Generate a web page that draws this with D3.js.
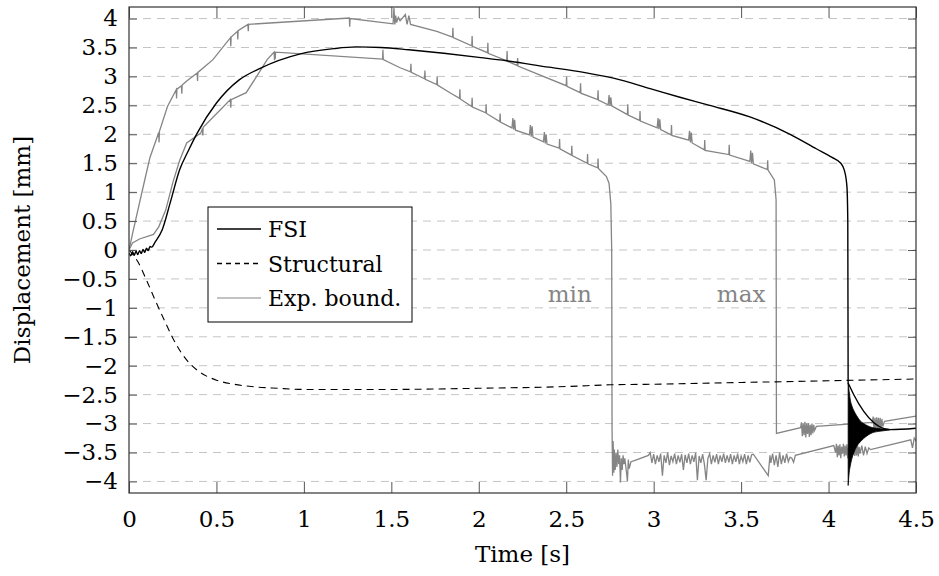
<!DOCTYPE html>
<html>
  <head>
    <meta charset="utf-8" />
    <title>Displacement over time</title>
    <script src="https://d3js.org/d3.v7.min.js"></script>
    <style>
      body { margin: 0; background: #fff; }
      text { font-family: "DejaVu Serif", "Liberation Serif", serif; }
    </style>
  </head>
  <body>
    <svg width="939" height="576"></svg>
    <script>
      // values, [time s, displacement mm]
      var fsi = [
        [0, -0.05], [0.01, -0.1], [0.02, -0.03], [0.03, -0.09], [0.04, -0.02], [0.05, -0.08],
        [0.06, -0.01], [0.07, -0.06], [0.08, 0.01], [0.09, -0.04], [0.1, 0.03], [0.11, -0.01],
        [0.12, 0.06], [0.13, 0.05], [0.15, 0.14], [0.19, 0.35], [0.235, 0.81], [0.29, 1.39],
        [0.34, 1.72], [0.39, 2.02], [0.5, 2.54], [0.63, 2.94], [0.75, 3.14], [0.98, 3.39],
        [1.17, 3.48], [1.3, 3.51], [1.44, 3.5], [1.6, 3.46], [1.8, 3.4], [2.0, 3.33], [2.16, 3.27],
        [2.4, 3.16], [2.6, 3.07], [2.77, 2.97], [2.98, 2.79], [3.15, 2.64], [3.32, 2.5], [3.55, 2.3],
        [3.78, 2.0], [3.93, 1.75], [4.02, 1.6], [4.07, 1.5], [4.09, 1.38], [4.105, 1.1],
        [4.11, 0.5], [4.112, -2.3], [4.35, -3.105], [4.5, -3.08]
      ];
      // ringing after the drop: [time, upper, lower]
      var fsiRinging = [
        [4.112, -2.3, -4.07], [4.118, -2.45, -3.85], [4.125, -2.6, -3.72], [4.134, -2.7, -3.6],
        [4.145, -2.78, -3.5], [4.16, -2.86, -3.4], [4.18, -2.95, -3.32], [4.2, -3.0, -3.26],
        [4.225, -3.04, -3.2], [4.25, -3.07, -3.16], [4.3, -3.09, -3.13], [4.35, -3.1, -3.11]
      ];
      var structural = [
        [0, 0], [0.05, -0.2], [0.1, -0.52], [0.15, -0.87], [0.2, -1.2], [0.25, -1.52], [0.3, -1.78],
        [0.35, -1.97], [0.4, -2.1], [0.5, -2.25], [0.6, -2.32], [0.7, -2.36], [0.85, -2.39],
        [1.0, -2.41], [1.5, -2.41], [2.0, -2.39], [2.5, -2.36], [2.75, -2.33], [3.0, -2.32],
        [3.5, -2.29], [4.0, -2.26], [4.5, -2.23]
      ];
      var expMax = [
        [0, 0], [0.02, 0.28], [0.05, 0.68], [0.09, 1.21], [0.12, 1.6], [0.17, 2.03], [0.172, 1.86],
        [0.174, 2.05], [0.22, 2.48], [0.27, 2.77], [0.272, 2.62], [0.274, 2.78], [0.3, 2.84],
        [0.302, 2.7], [0.304, 2.85], [0.33, 2.92], [0.39, 3.06], [0.392, 2.92], [0.394, 3.07],
        [0.48, 3.29], [0.58, 3.67], [0.582, 3.52], [0.584, 3.68], [0.62, 3.78], [0.622, 3.64],
        [0.624, 3.79], [0.68, 3.9], [0.682, 3.78], [0.684, 3.9], [1.26, 4.01], [1.262, 3.86],
        [1.264, 4.0], [1.51, 3.91], [1.515, 4.18], [1.52, 3.9], [1.525, 4.05], [1.53, 3.93],
        [1.54, 4.02], [1.55, 3.96], [1.58, 4.07], [1.59, 3.9], [1.6, 4.05], [1.61, 3.9],
        [1.76, 3.78], [1.85, 3.68], [1.852, 3.84], [1.854, 3.67], [1.96, 3.53], [1.962, 3.7],
        [1.964, 3.52], [2.05, 3.41], [2.052, 3.58], [2.054, 3.4], [2.16, 3.27], [2.162, 3.44],
        [2.164, 3.26], [2.22, 3.19], [2.222, 3.32], [2.224, 3.18], [2.5, 2.84], [2.502, 3.0],
        [2.504, 2.83], [2.58, 2.72], [2.582, 2.88], [2.584, 2.71], [2.68, 2.6], [2.682, 2.76],
        [2.684, 2.59], [2.74, 2.51], [2.745, 2.68], [2.75, 2.49], [2.755, 2.64], [2.76, 2.49],
        [2.85, 2.34], [2.852, 2.52], [2.854, 2.33], [2.92, 2.24], [2.922, 2.4], [2.924, 2.23],
        [3.02, 2.11], [3.025, 2.28], [3.03, 2.09], [3.035, 2.26], [3.04, 2.08], [3.1, 1.99],
        [3.102, 2.16], [3.104, 1.98], [3.2, 1.9], [3.205, 2.06], [3.21, 1.86], [3.215, 2.03],
        [3.22, 1.85], [3.29, 1.73], [3.292, 1.9], [3.294, 1.72], [3.43, 1.65], [3.432, 1.82],
        [3.434, 1.64], [3.55, 1.53], [3.555, 1.72], [3.56, 1.5], [3.565, 1.68], [3.57, 1.49],
        [3.65, 1.39], [3.652, 1.55], [3.654, 1.38], [3.69, 1.21], [3.7, 0.87], [3.702, -3.17],
        [3.84, -3.07], [3.845, -2.98], [3.85, -3.22], [3.855, -3.0], [3.86, -3.2], [3.865, -2.97],
        [3.87, -3.24], [3.875, -3.0], [3.88, -3.18], [3.885, -2.99], [3.89, -3.23], [3.895, -3.02],
        [3.9, -3.2], [3.905, -3.0], [3.91, -3.17], [3.915, -3.02], [3.92, -3.12], [3.93, -3.05],
        [4.25, -2.98], [4.255, -2.88], [4.26, -3.1], [4.265, -2.9], [4.27, -3.12], [4.275, -2.89],
        [4.28, -3.1], [4.285, -2.9], [4.29, -3.12], [4.295, -2.9], [4.3, -3.08], [4.305, -2.92],
        [4.31, -3.05], [4.32, -2.96], [4.5, -2.87]
      ];
      var expMin = [
        [0, 0], [0.02, 0.12], [0.06, 0.19], [0.14, 0.27], [0.17, 0.4], [0.21, 0.69], [0.25, 1.16],
        [0.29, 1.55], [0.33, 1.85], [0.41, 2.02], [0.42, 2.1], [0.422, 1.98], [0.424, 2.12],
        [0.58, 2.6], [0.582, 2.46], [0.584, 2.6], [0.67, 2.72], [0.73, 3.0], [0.79, 3.29],
        [0.83, 3.42], [0.832, 3.28], [0.834, 3.43], [0.836, 3.3], [0.838, 3.42], [1.45, 3.3],
        [1.452, 3.46], [1.454, 3.29], [1.55, 3.15], [1.61, 3.08], [1.612, 3.22], [1.614, 3.07],
        [1.69, 2.96], [1.692, 3.1], [1.694, 2.95], [1.76, 2.86], [1.762, 3.0], [1.764, 2.85],
        [1.84, 2.71], [1.89, 2.62], [1.892, 2.78], [1.894, 2.61], [1.96, 2.48], [1.962, 2.63],
        [1.964, 2.47], [2.04, 2.37], [2.042, 2.52], [2.044, 2.36], [2.12, 2.22], [2.122, 2.36],
        [2.124, 2.21], [2.19, 2.11], [2.195, 2.28], [2.2, 2.08], [2.205, 2.25], [2.21, 2.07],
        [2.29, 1.99], [2.295, 2.16], [2.3, 1.96], [2.305, 2.14], [2.31, 1.95], [2.37, 1.87],
        [2.375, 2.04], [2.38, 1.84], [2.385, 2.0], [2.39, 1.83], [2.46, 1.76], [2.462, 1.92],
        [2.464, 1.75], [2.53, 1.64], [2.532, 1.8], [2.534, 1.63], [2.62, 1.5], [2.622, 1.66],
        [2.624, 1.49], [2.68, 1.42], [2.682, 1.58], [2.684, 1.41], [2.73, 1.27], [2.745, 1.15],
        [2.755, 0.8], [2.76, 0.0], [2.762, -3.06], [2.765, -3.9], [2.768, -3.3], [2.772, -3.85],
        [2.775, -3.45], [2.78, -3.8], [2.785, -3.5], [2.79, -3.75], [2.795, -3.45], [2.8, -3.7],
        [2.805, -3.55], [2.81, -4.02], [2.815, -3.6], [2.82, -3.8], [2.825, -3.55], [2.83, -3.7],
        [2.835, -3.6], [2.845, -3.85], [2.85, -4.0], [2.855, -3.62], [2.86, -3.78], [2.87, -3.66],
        [2.89, -3.64], [2.97, -3.55], [2.98, -3.5], [2.99, -3.68], [3.0, -3.53], [3.01, -3.7],
        [3.02, -3.55], [3.03, -3.66], [3.04, -3.52], [3.05, -3.9], [3.06, -3.55], [3.07, -3.68],
        [3.08, -3.5], [3.09, -3.72], [3.1, -3.56], [3.11, -3.66], [3.12, -3.52], [3.13, -3.7],
        [3.14, -3.55], [3.15, -3.67], [3.16, -3.53], [3.17, -3.8], [3.18, -3.54], [3.19, -3.68],
        [3.2, -3.52], [3.21, -3.7], [3.22, -3.55], [3.23, -3.66], [3.24, -3.5], [3.25, -3.98],
        [3.26, -3.56], [3.27, -3.68], [3.28, -3.53], [3.29, -3.7], [3.3, -3.98], [3.31, -3.6],
        [3.32, -3.52], [3.33, -3.7], [3.34, -3.55], [3.35, -3.67], [3.36, -3.53], [3.37, -3.7],
        [3.38, -3.55], [3.39, -3.66], [3.4, -3.52], [3.41, -3.68], [3.42, -3.55], [3.43, -3.67],
        [3.44, -3.53], [3.45, -3.7], [3.46, -3.55], [3.47, -3.66], [3.48, -3.52], [3.49, -3.7],
        [3.5, -3.56], [3.51, -3.66], [3.52, -3.53], [3.53, -3.7], [3.54, -3.55], [3.55, -3.67],
        [3.56, -3.54], [3.57, -3.53], [3.655, -3.9], [3.665, -3.55], [3.67, -3.68], [3.68, -3.52],
        [3.69, -3.72], [3.7, -3.55], [3.71, -3.75], [3.72, -3.5], [3.73, -3.7], [3.74, -3.55],
        [3.75, -3.68], [3.76, -3.52], [3.77, -3.66], [3.78, -3.58], [3.79, -3.6], [3.8, -3.67],
        [3.81, -3.55], [4.03, -3.38], [4.04, -3.5], [4.045, -3.35], [4.05, -3.58], [4.055, -3.38],
        [4.06, -3.55], [4.065, -3.36], [4.07, -3.6], [4.075, -3.4], [4.08, -3.52], [4.085, -3.35],
        [4.09, -3.57], [4.095, -3.38], [4.1, -3.55], [4.105, -3.36], [4.11, -3.6], [4.115, -3.4],
        [4.12, -3.55], [4.125, -3.37], [4.13, -3.58], [4.135, -3.4], [4.14, -3.54], [4.145, -3.36],
        [4.15, -3.56], [4.155, -3.38], [4.16, -3.55], [4.165, -3.36], [4.17, -3.57], [4.175, -3.4],
        [4.18, -3.52], [4.19, -3.38], [4.2, -3.55], [4.21, -3.4], [4.22, -3.52], [4.23, -3.42],
        [4.24, -3.45], [4.47, -3.28], [4.48, -3.42], [4.49, -3.25], [4.5, -3.3]
      ];
      var xTicks = [0, 0.5, 1, 1.5, 2, 2.5, 3, 3.5, 4, 4.5];
      var yTicks = [-4, -3.5, -3, -2.5, -2, -1.5, -1, -0.5, 0, 0.5, 1, 1.5, 2, 2.5, 3, 3.5, 4];
      var legendLabels = ["FSI", "Structural", "Exp. bound."];

      var svg = d3.select("svg");
      var plotL = 129, plotR = 916, plotT = 7, plotB = 493;
      var grey = "#858585";

      var x = d3.scaleLinear().domain([0, 4.5]).range([plotL, plotR]);
      var y = d3.scaleLinear().domain([-4.2, 4.2]).range([plotB, plotT]);

      svg.append("defs").append("clipPath").attr("id", "plot")
        .append("rect")
        .attr("x", plotL).attr("y", plotT)
        .attr("width", plotR - plotL).attr("height", plotB - plotT);

      // horizontal dashed grid
      svg.append("g")
        .selectAll("line")
        .data(yTicks)
        .enter()
        .append("line")
        .attr("x1", plotL)
        .attr("x2", plotR)
        .attr("y1", function (d) { return y(d); })
        .attr("y2", function (d) { return y(d); })
        .attr("stroke", "#c4c4c4")
        .attr("stroke-dasharray", "8,6");

      var line = d3.line()
        .x(function (d) { return x(d[0]); })
        .y(function (d) { return y(d[1]); });
      var smooth = d3.line()
        .curve(d3.curveMonotoneX)
        .x(function (d) { return x(d[0]); })
        .y(function (d) { return y(d[1]); });

      var plot = svg.append("g").attr("clip-path", "url(#plot)");

      plot.append("path").attr("d", line(expMin))
        .attr("fill", "none").attr("stroke", grey).attr("stroke-width", 1.3);
      plot.append("path").attr("d", line(expMax))
        .attr("fill", "none").attr("stroke", grey).attr("stroke-width", 1.3);
      plot.append("path").attr("d", smooth(structural))
        .attr("fill", "none").attr("stroke", "#000").attr("stroke-width", 1.1)
        .attr("stroke-dasharray", "7,5");
      plot.append("path").attr("d", smooth(fsi))
        .attr("fill", "none").attr("stroke", "#000").attr("stroke-width", 1.4);
      plot.append("path")
        .attr("d", d3.area()
          .curve(d3.curveMonotoneX)
          .x(function (d) { return x(d[0]); })
          .y0(function (d) { return y(d[2]); })
          .y1(function (d) { return y(d[1]); })(fsiRinging))
        .attr("fill", "#000").attr("stroke", "#000").attr("stroke-width", 0.8);

      // axes, ticks pointing inwards
      var fontSize = 23;
      svg.append("g")
        .attr("transform", "translate(0," + plotB + ")")
        .call(d3.axisBottom(x).tickValues(xTicks).tickSize(-11).tickSizeOuter(0)
          .tickPadding(17.5).tickFormat(d3.format("")));
      svg.append("g")
        .attr("transform", "translate(0," + plotT + ")")
        .call(d3.axisTop(x).tickValues(xTicks).tickSize(-11).tickSizeOuter(0).tickFormat(""));
      svg.append("g")
        .attr("transform", "translate(" + plotL + ",0)")
        .call(d3.axisLeft(y).tickValues(yTicks).tickSize(-8).tickSizeOuter(0)
          .tickPadding(11).tickFormat(d3.format("")));
      svg.append("g")
        .attr("transform", "translate(" + plotR + ",0)")
        .call(d3.axisRight(y).tickValues(yTicks).tickSize(-8).tickSizeOuter(0).tickFormat(""));

      svg.selectAll(".domain").remove();
      svg.selectAll(".tick line").attr("stroke", "#555");
      svg.selectAll(".tick text")
        .attr("fill", "#000")
        .style("font-family", '"DejaVu Serif", serif')
        .style("font-size", fontSize + "px");

      svg.append("rect")
        .attr("x", plotL).attr("y", plotT)
        .attr("width", plotR - plotL).attr("height", plotB - plotT)
        .attr("fill", "none").attr("stroke", "#333").attr("stroke-width", 1.2);

      // axis titles
      svg.append("text")
        .attr("x", (plotL + plotR) / 2).attr("y", 562)
        .attr("text-anchor", "middle")
        .style("font-size", fontSize + "px")
        .text("Time [s]");
      svg.append("text")
        .attr("transform", "translate(30," + (plotT + plotB) / 2 + ") rotate(-90)")
        .attr("text-anchor", "middle")
        .style("font-size", fontSize + "px")
        .text("Displacement [mm]");

      // curve annotations
      svg.append("text")
        .attr("x", x(2.52)).attr("y", 302)
        .attr("text-anchor", "middle")
        .attr("fill", grey)
        .style("font-size", fontSize + "px")
        .text("min");
      svg.append("text")
        .attr("x", x(3.5)).attr("y", 302)
        .attr("text-anchor", "middle")
        .attr("fill", grey)
        .style("font-size", fontSize + "px")
        .text("max");

      // legend
      var legend = svg.append("g").attr("transform", "translate(208,207)");
      legend.append("rect")
        .attr("width", 204).attr("height", 115)
        .attr("fill", "#fff").attr("stroke", "#000").attr("stroke-width", 1);
      var entry = legend.selectAll(".entry")
        .data(legendLabels)
        .enter()
        .append("g")
        .attr("transform", function (d, i) { return "translate(0," + (22 + i * 34.5) + ")"; });
      entry.append("line")
        .attr("x1", 9).attr("x2", 53)
        .attr("stroke", function (d, i) { return i === 2 ? grey : "#000"; })
        .attr("stroke-width", function (d, i) { return i === 2 ? 1.2 : 1.3; })
        .attr("stroke-dasharray", function (d, i) { return i === 1 ? "5,4" : null; });
      entry.append("text")
        .attr("x", 60).attr("y", 8)
        .style("font-size", "22px")
        .text(function (d) { return d; });
    </script>
  </body>
</html>
